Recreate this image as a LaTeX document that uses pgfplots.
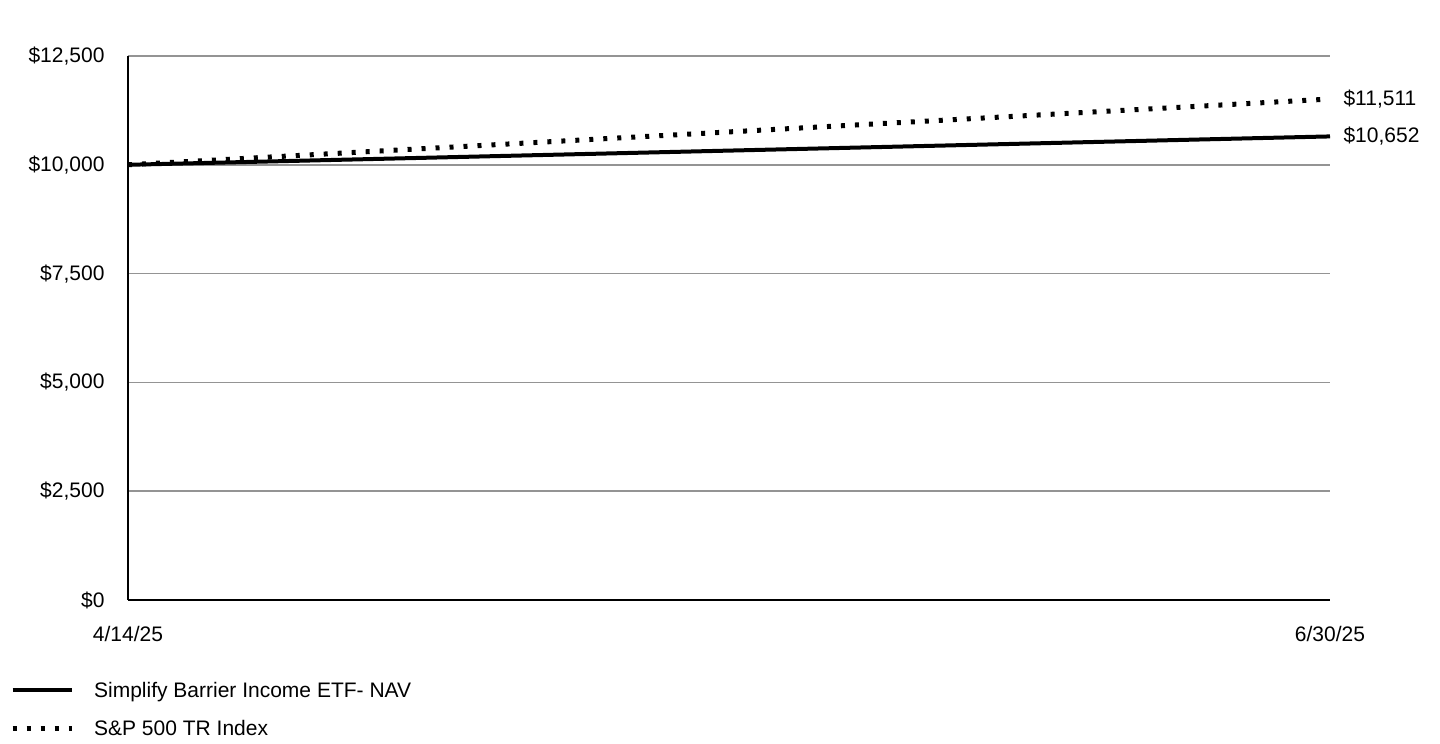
\documentclass[border=0pt]{standalone}
\usepackage{pgfplots}
\pgfplotsset{compat=1.18}
\usepackage{fontspec}
\setmainfont{Liberation Sans}
\newcommand{\chartfont}{\fontsize{21}{25}\selectfont}

\begin{document}
\begin{tikzpicture}[x=1pt,y=1pt]
	% fix page to the reference size (1440 x 744)
	\path[use as bounding box] (0,0) rectangle (1440,744);
	\begin{axis}[
		at={(128pt,144pt)},
		anchor=south west,
		scale only axis,
		width=1202pt,
		height=544pt,
		% axes: only left and bottom drawn
		axis x line*=bottom,
		axis y line*=left,
		axis line style={black, line width=1.5pt, -},
		xmin=0, xmax=1,
		ymin=0, ymax=12500,
		scaled y ticks=false,
		xtick={0,1},
		xticklabels={4/14/25, 6/30/25},
		ytick={0,2500,5000,7500,10000,12500},
		yticklabels={{\$0},{\$2,500},{\$5,000},{\$7,500},{\$10,000},{\$12,500}},
		major tick length=0pt,
		ymajorgrids,
		grid style={line width=1.5pt, draw=black!42},
		tick label style={font=\chartfont, text=black},
		yticklabel style={xshift=-20pt},
		xticklabel style={yshift=-23pt},
		clip=false,
		legend style={
			at={(-0.0982,-0.1525)},
			anchor=north west,
			draw=none, fill=none,
			font=\chartfont,
			inner sep=0pt,
			row sep=20pt,
			nodes={inner sep=0pt, text height=14pt, text depth=4pt},
		},
		legend cell align=left,
		legend image code/.code={
			\draw[#1] (0pt,2pt) -- (59pt,2pt);
			\path (79pt,2pt);
		},
		]

		% fund NAV (solid)
		\addplot[black, line width=4pt] coordinates {(0,10000) (1,10652)};
		\addlegendentry{Simplify Barrier Income ETF- NAV}

		% index (dotted)
		\addplot[black, line width=5pt, dash pattern=on 4pt off 10pt] coordinates {(0,10000) (1,11511)};
		\addlegendentry{S\&P 500 TR Index}

		% end values
		\node[anchor=west, font=\chartfont, xshift=10pt] at (axis cs:1,11511) {\$11,511};
		\node[anchor=west, font=\chartfont, xshift=10pt] at (axis cs:1,10652) {\$10,652};
	\end{axis}
\end{tikzpicture}
\end{document}
